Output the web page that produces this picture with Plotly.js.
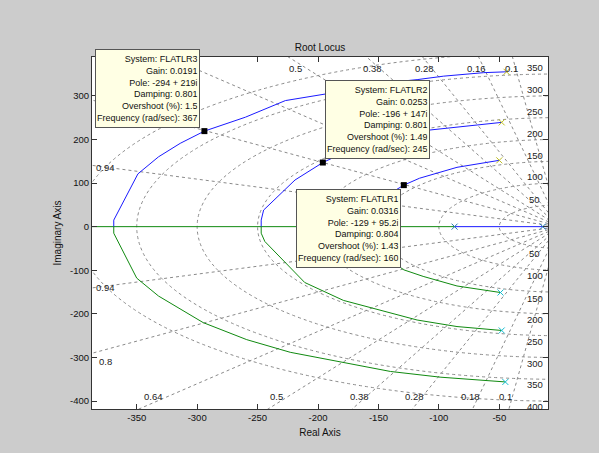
<!DOCTYPE html>
<html><head><meta charset="utf-8">
<script src="https://cdn.plot.ly/plotly-3.0.1.min.js"></script>
<style>html,body{margin:0;padding:0;background:#cccccc;}#chart{width:599px;height:453px;}</style>
</head><body><div id="chart"></div>
<script>
// ---------- data ----------
const lr3UpRe = [-44, -63, -96, -118, -140, -179, -194, -227, -260, -294, -314, -332, -349, -369, -369];
const lr3UpIm = [355, 353, 345, 337, 331, 313, 304, 289, 251, 219, 191, 160, 121, 15, 0];
const lr3LoRe = [-45, -99, -140, -179, -223, -259, -295, -332, -350, -369, -369];
const lr3LoIm = [-356, -345, -332, -311, -288, -259, -220, -159, -118, -15, 0];
const lr2UpRe = [-48, -85, -116, -154, -179, -196, -219, -245, -247, -247];
const lr2UpIm = [239, 229, 219, 187, 169, 147, 107, 38, 15, 0];
const lr2LoRe = [-48, -85, -118, -154, -179, -211, -244, -247, -247];
const lr2LoIm = [-238, -229, -214, -187, -169, -128, -34, -15, 0];
const lr1UpRe = [-50, -85, -116, -129, -144, -161, -163, -163];
const lr1UpIm = [152, 136, 111, 95.2, 70, 25, 10, 0];
const lr1LoRe = [-49, -85, -113, -129, -144, -161, -163, -163];
const lr1LoIm = [-151, -136, -114, -99, -70, -25, -10, 0];
const realGreenRe = [-420, -87];
const realBlueRe = [-87, -5];
const realPoleRe = [-87, -14];
const poleUpRe = [-50, -48, -44];   // FLATLR1, FLATLR2, FLATLR3
const poleUpIm = [152, 239, 355];
const poleLoRe = [-49, -48, -45];
const poleLoIm = [-151, -238, -356];

const systems = ['FLATLR1', 'FLATLR2', 'FLATLR3'];
const selRe = [-129, -196, -294];
const selIm = [95.2, 147, 219];
const gains = ['0.0316', '0.0253', '0.0191'];
const poleTxt = ['-129 + 95.2i', '-196 + 147i', '-294 + 219i'];
const damping = ['0.804', '0.801', '0.801'];
const overshoot = ['1.43', '1.49', '1.5'];
const freq = ['160', '245', '367'];

const xTicks = [-350, -300, -250, -200, -150, -100, -50];
const yTicks = [-400, -300, -200, -100, 0, 100, 200, 300];
const wnRadii = [50, 100, 150, 200, 250, 300, 350, 400];
const zetaVals = [0.94, 0.8, 0.64, 0.5, 0.38, 0.28, 0.17, 0.1];
// grid label texts (the ones visible in the reference)
const topZetaLabels = ['0.5', '0.38', '0.28', '0.16', '0.1'];
const topZetaRe = [-219, -155, -111.5, -69, -39.7];
const botZetaLabels = ['0.64', '0.5', '0.38', '0.28', '0.18', '0.1'];
const botZetaRe = [-336, -234, -166, -120, -74, -45];
const leftZetaLabels = ['0.94', '0.94', '0.8'];
const leftZetaIm = [136, -139, -310];
const wnUpLabels = ['350', '300', '250', '200', '150', '100', '50'];
const wnUpIm = [365, 314, 265, 214, 163, 114, 63];
const wnLoLabels = ['50', '100', '150', '200', '250', '300', '350', '400'];
const wnLoIm = [-61, -112, -164, -212, -263, -313, -362, -412];

// ---------- styles ----------
const FONT = "'Liberation Sans', Arial, sans-serif";
const BLUE = '#1a1aff', GREEN = '#108a10';
const GRID = '#8a8a8a';
const poleColors = ['#33bb33', '#ee3333', '#33cccc'];

const traces = [];
function line(x, y, c) {
  traces.push({x: x, y: y, type: 'scatter', mode: 'lines', line: {color: c, width: 1}, hoverinfo: 'skip', showlegend: false});
}
line(realGreenRe, realGreenRe.map(() => 0), GREEN);
line(realBlueRe, realBlueRe.map(() => 0), BLUE);
line(lr3UpRe, lr3UpIm, BLUE); line(lr3LoRe, lr3LoIm, GREEN);
line(lr2UpRe, lr2UpIm, BLUE); line(lr2LoRe, lr2LoIm, GREEN);
line(lr1UpRe, lr1UpIm, BLUE); line(lr1LoRe, lr1LoIm, GREEN);
const xm = c => ({symbol: 'x-thin-open', size: 6, line: {width: 1, color: c}});
traces.push({x: poleUpRe, y: poleUpIm, type: 'scatter', mode: 'markers', showlegend: false, hoverinfo: 'skip', marker: xm(poleColors)});
traces.push({x: poleLoRe, y: poleLoIm, type: 'scatter', mode: 'markers', showlegend: false, hoverinfo: 'skip', marker: xm(poleColors)});
traces.push({x: realPoleRe, y: realPoleRe.map(() => 0), type: 'scatter', mode: 'markers', showlegend: false, hoverinfo: 'skip', marker: xm('#4444ff')});
traces.push({x: selRe, y: selIm, type: 'scatter', mode: 'markers', showlegend: false, hoverinfo: 'skip',
  marker: {symbol: 'square', size: 6, color: '#000'}});

// grid shapes
const shapes = [];
wnRadii.forEach(r => shapes.push({type: 'circle', xref: 'x', yref: 'y', x0: -r, x1: r, y0: -r, y1: r, layer: 'below',
  line: {color: GRID, width: 1, dash: '3px,3px'}}));
zetaVals.forEach(z => {
  const L = 900, s = Math.sqrt(1 - z * z);
  [1, -1].forEach(sg => shapes.push({type: 'line', xref: 'x', yref: 'y', x0: 0, y0: 0, x1: -z * L, y1: sg * s * L, layer: 'below',
    line: {color: GRID, width: 1, dash: '3px,3px'}}));
});

// annotations
const ann = [];
const gl = {size: 9.5, color: '#222', family: FONT};
topZetaLabels.forEach((t, i) => ann.push({x: topZetaRe[i], y: 362, text: t, showarrow: false, font: gl}));
botZetaLabels.forEach((t, i) => ann.push({x: botZetaRe[i], y: -389, text: t, showarrow: false, font: gl}));
leftZetaLabels.forEach((t, i) => ann.push({x: -376, y: leftZetaIm[i], text: t, showarrow: false, font: gl}));
wnUpLabels.forEach((t, i) => ann.push({x: -20.5, y: wnUpIm[i], text: t, showarrow: false, font: gl}));
wnLoLabels.forEach((t, i) => ann.push({x: -20.5, y: wnLoIm[i], text: t, showarrow: false, font: gl}));

const tipPos = [
  {xanchor: 'right', yanchor: 'top', xshift: -3, yshift: -4},
  {xanchor: 'left', yanchor: 'bottom', xshift: 2, yshift: 4},
  {xanchor: 'right', yanchor: 'bottom', xshift: -4, yshift: 3}
];
systems.forEach((s, i) => {
  const txt = 'System: ' + s + '<br>Gain: ' + gains[i] + '<br>Pole: ' + poleTxt[i] + '<br>Damping: ' + damping[i] +
    '<br>Overshoot (%): ' + overshoot[i] + '<br>Frequency (rad/sec): ' + freq[i];
  ann.push(Object.assign({x: selRe[i], y: selIm[i], text: txt, showarrow: false, align: 'right',
    bgcolor: '#ffffe4', bordercolor: '#555', borderwidth: 1, borderpad: 1, height: 75,
    font: {size: 9, color: '#111', family: FONT}}, tipPos[i]));
});

const axCommon = {showgrid: false, zeroline: false, showline: true, linecolor: '#333', linewidth: 1, mirror: 'ticks',
  ticks: 'inside', ticklen: 5, tickcolor: '#333', tickfont: {size: 9.5, color: '#111', family: FONT}};

const layout = {
  width: 599, height: 453,
  margin: {l: 92, r: 51, t: 57, b: 44},
  paper_bgcolor: '#cccccc', plot_bgcolor: '#ffffff',
  showlegend: false,
  font: {family: FONT, size: 10, color: '#111'},
  title: {text: 'Root Locus', font: {size: 10, family: FONT, color: '#111'}, x: 0.5, xref: 'paper', y: 1 - 47 / 453, yanchor: 'middle'},
  xaxis: Object.assign({range: [-387, -9.7], tickvals: xTicks, ticktext: xTicks.map(String),
    title: {text: 'Real Axis', font: {size: 10, family: FONT, color: '#111'}, standoff: 6}}, axCommon),
  yaxis: Object.assign({range: [-418, 388.9], tickvals: yTicks, ticktext: yTicks.map(String),
    title: {text: 'Imaginary Axis', font: {size: 10, family: FONT, color: '#111'}, standoff: 6}}, axCommon),
  shapes: shapes,
  annotations: ann
};
Plotly.newPlot('chart', traces, layout, {staticPlot: true, displayModeBar: false});
</script></body></html>
